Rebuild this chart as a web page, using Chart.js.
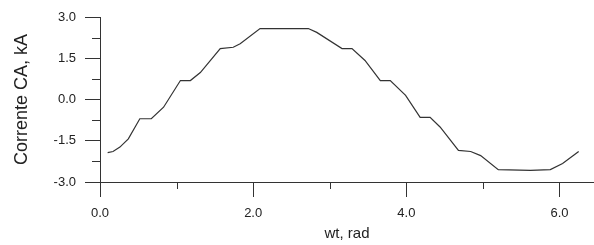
<!DOCTYPE html>
<html>
<head>
<meta charset="utf-8">
<script src="https://cdn.jsdelivr.net/npm/chart.js@4"></script>
<style>
html,body{margin:0;padding:0;background:#fff;}
#wrap{width:594px;height:245px;}
</style>
</head>
<body>
<div id="wrap"><canvas id="c" width="594" height="245"></canvas></div>
<script>
const wt = [0.10,0.17,0.26,0.37,0.52,0.67,0.83,1.05,1.18,1.31,1.57,1.74,1.83,2.09,2.72,2.83,3.16,3.29,3.46,3.66,3.79,3.99,4.18,4.31,4.44,4.68,4.84,4.97,5.20,5.62,5.88,6.04,6.25];
const corrente = [-1.93,-1.89,-1.73,-1.43,-0.70,-0.70,-0.28,0.69,0.69,0.98,1.85,1.90,2.03,2.58,2.58,2.44,1.85,1.85,1.42,0.69,0.69,0.15,-0.65,-0.65,-1.00,-1.85,-1.89,-2.04,-2.55,-2.58,-2.55,-2.33,-1.89];
const xMajorTicks = [0, 2, 4, 6];
const xMinorTicks = [1, 3, 5];
const yMajorTicks = [-3, -1.5, 0, 1.5, 3];
const yMinorTicks = [-2.25, -0.75, 0.75, 2.25];

const INK = '#333';
const points = wt.map((x, i) => ({x: x, y: corrente[i]}));

const minorTicks = {
  id: 'minorTicks',
  afterDraw(chart) {
    const ctx = chart.ctx, xs = chart.scales.x, ys = chart.scales.y;
    ctx.save();
    ctx.strokeStyle = INK;
    ctx.lineWidth = 1;
    ctx.beginPath();
    xMinorTicks.forEach(v => {
      const px = Math.round(xs.getPixelForValue(v)) + 0.5;
      ctx.moveTo(px, ys.bottom);
      ctx.lineTo(px, ys.bottom + 7);
    });
    yMinorTicks.forEach(v => {
      const py = Math.round(ys.getPixelForValue(v)) + 0.5;
      ctx.moveTo(xs.left - 8, py);
      ctx.lineTo(xs.left, py);
    });
    ctx.stroke();
    ctx.restore();
  }
};

new Chart(document.getElementById('c'), {
  type: 'scatter',
  data: {
    datasets: [{
      data: points,
      showLine: true,
      borderColor: INK,
      borderWidth: 1.2,
      pointRadius: 0,
      tension: 0,
      fill: false
    }]
  },
  options: {
    responsive: false,
    animation: false,
    devicePixelRatio: 1,
    layout: {padding: {top: 17, right: 0, left: 0, bottom: 0}},
    plugins: {legend: {display: false}, tooltip: {enabled: false}},
    scales: {
      x: {
        type: 'linear',
        min: 0,
        max: 6.45,
        afterFit: s => { s.height = 63; },
        afterBuildTicks: s => { s.ticks = xMajorTicks.map(v => ({value: v})); },
        ticks: {
          includeBounds: false,
          autoSkip: false,
          maxRotation: 0,
          padding: 9,
          color: '#222',
          font: {family: 'Liberation Sans, Arial, sans-serif', size: 13},
          callback: v => v.toFixed(1)
        },
        grid: {drawOnChartArea: false, drawTicks: true, tickLength: 15, tickColor: INK, tickWidth: 1},
        border: {display: true, color: INK, width: 1},
        title: {display: true, text: 'wt, rad', color: '#222', padding: {top: 0, bottom: 2},
                font: {family: 'Liberation Sans, Arial, sans-serif', size: 15}}
      },
      y: {
        type: 'linear',
        min: -3,
        max: 3,
        afterFit: s => { s.width = 100; },
        afterBuildTicks: s => { s.ticks = yMajorTicks.map(v => ({value: v})); },
        ticks: {
          autoSkip: false,
          padding: 9,
          color: '#222',
          font: {family: 'Liberation Sans, Arial, sans-serif', size: 13},
          callback: v => v.toFixed(1)
        },
        grid: {drawOnChartArea: false, drawTicks: true, tickLength: 15, tickColor: INK, tickWidth: 1},
        border: {display: true, color: INK, width: 1},
        title: {display: true, text: 'Corrente CA, kA', color: '#222', padding: {top: 11, bottom: 0},
                font: {family: 'Liberation Sans, Arial, sans-serif', size: 18}}
      }
    }
  },
  plugins: [minorTicks]
});
</script>
</body>
</html>
